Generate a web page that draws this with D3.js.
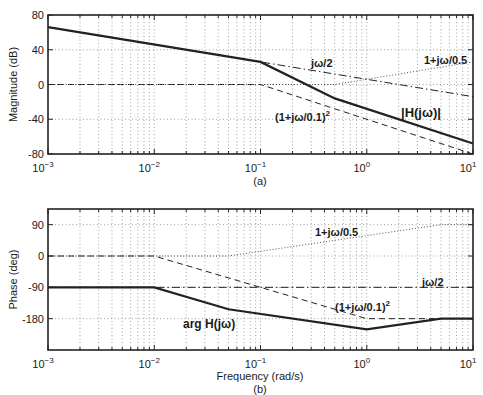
<!DOCTYPE html>
<html>
<head>
<meta charset="utf-8">
<script src="https://cdn.jsdelivr.net/npm/d3@7"></script>
<style>
  body { margin: 0; background: #fff; }
  text { font-family: "Liberation Sans", Arial, sans-serif; fill: #1a1a1a; }
</style>
</head>
<body>
<div id="chart"></div>
<script>
// frequency decades (rad/s)
const decades = [-3, -2, -1, 0, 1];

// magnitude (dB) asymptotes: [w, dB]
const magTotal  = [[0.001, 66], [0.1, 26], [0.5, -16], [10, -68]];
const magInteg  = [[0.001, 66], [10, -14]];
const magPole2  = [[0.001, 0], [0.1, 0], [10, -80]];
const magZero   = [[0.001, 0], [0.5, 0], [10, 26]];

// phase (deg) asymptotes: [w, deg]
const phTotal = [[0.001, -90], [0.01, -90], [0.05, -153], [1, -211], [5, -180], [10, -180]];
const phInteg = [[0.001, -90], [10, -90]];
const phPole2 = [[0.001, 0], [0.01, 0], [1, -180], [10, -180]];
const phZero  = [[0.001, 0], [0.05, 0], [5, 90], [10, 90]];

const magTicks = [-80, -40, 0, 40, 80];
const magGrid = [-40, 0, 40];
const phTicks = [-180, -90, 0, 90];

const width = 483, height = 395;
const left = 48, right = 473;

const svg = d3.select('#chart').append('svg')
  .attr('width', width).attr('height', height);

const x = d3.scaleLog().domain([1e-3, 10]).range([left, right]);

// minor + major tick frequencies
const allFreqs = [];
decades.slice(0, -1).forEach(d => {
  for (let k = 1; k < 10; k++) allFreqs.push(k * Math.pow(10, d));
});
allFreqs.push(10);

function panel(top, bottom, yDomain, yTicks, yGrid, series, ylabel, caption, xlabel) {
  const y = d3.scaleLinear().domain(yDomain).range([bottom, top]);
  const g = svg.append('g');

  // grid
  g.selectAll('.vg').data(allFreqs.filter(f => f > 1e-3 && f < 10)).enter()
    .append('line')
    .attr('x1', d => x(d)).attr('x2', d => x(d))
    .attr('y1', top).attr('y2', bottom)
    .attr('stroke', '#8a8a8a').attr('stroke-width', 0.8)
    .attr('stroke-dasharray', '1,2.5');
  g.selectAll('.hg').data(yGrid).enter()
    .append('line')
    .attr('x1', left).attr('x2', right)
    .attr('y1', d => y(d)).attr('y2', d => y(d))
    .attr('stroke', '#8a8a8a').attr('stroke-width', 0.8)
    .attr('stroke-dasharray', '1,2.5');

  // curves
  const line = d3.line().x(d => x(d[0])).y(d => y(d[1]));
  series.forEach(s => {
    g.append('path').datum(s.data)
      .attr('d', line)
      .attr('fill', 'none')
      .attr('stroke', s.color || '#222')
      .attr('stroke-width', s.w)
      .attr('stroke-dasharray', s.dash);
  });

  // ticks (inside, all four sides)
  allFreqs.forEach(f => {
    const major = decades.some(d => Math.abs(Math.pow(10, d) - f) < 1e-12);
    const len = major ? 5 : 3;
    g.append('line').attr('x1', x(f)).attr('x2', x(f))
      .attr('y1', bottom).attr('y2', bottom - len).attr('stroke', '#222');
    g.append('line').attr('x1', x(f)).attr('x2', x(f))
      .attr('y1', top).attr('y2', top + len).attr('stroke', '#222');
  });
  yTicks.forEach(t => {
    g.append('line').attr('x1', left).attr('x2', left + 5)
      .attr('y1', y(t)).attr('y2', y(t)).attr('stroke', '#222');
    g.append('line').attr('x1', right).attr('x2', right - 5)
      .attr('y1', y(t)).attr('y2', y(t)).attr('stroke', '#222');
  });

  // frame
  g.append('rect')
    .attr('x', left).attr('y', top)
    .attr('width', right - left).attr('height', bottom - top)
    .attr('fill', 'none').attr('stroke', '#222').attr('stroke-width', 1.6);

  // y tick labels
  g.selectAll('.yl').data(yTicks).enter()
    .append('text')
    .attr('x', left - 4).attr('y', d => y(d) + 4)
    .attr('text-anchor', 'end')
    .style('font-size', '11px')
    .text(d => d < 0 ? '-' + Math.abs(d) : d);

  // x tick labels 10^n
  decades.forEach(d => {
    const t = g.append('text')
      .attr('x', x(Math.pow(10, d)) - 5).attr('y', bottom + 18)
      .attr('text-anchor', 'middle')
      .style('font-size', '11px');
    t.append('tspan').text('10');
    t.append('tspan').attr('dy', -5).style('font-size', '8px').text(d < 0 ? '\u2212' + Math.abs(d) : d);
  });

  // y axis label
  g.append('text')
    .attr('transform', `translate(17,${(top + bottom) / 2}) rotate(-90)`)
    .attr('text-anchor', 'middle')
    .style('font-size', '11px')
    .text(ylabel);

  let cy = bottom + 31;
  if (xlabel) {
    g.append('text').attr('x', 260).attr('y', bottom + 30)
      .attr('text-anchor', 'middle').style('font-size', '11px').text(xlabel);
    cy = bottom + 43;
  }
  g.append('text').attr('x', 260).attr('y', cy)
    .attr('text-anchor', 'middle').style('font-size', '11px').text(caption);

  return {g, y};
}

function label(g, px, py, parts, size) {
  const t = g.append('text').attr('x', px).attr('y', py)
    .style('font-size', (size || 11) + 'px').style('font-weight', 'bold');
  parts.forEach(p => {
    const s = t.append('tspan').text(p.t);
    if (p.sup) s.attr('dy', -5).style('font-size', '8px');
  });
}

// (a) magnitude
const a = panel(15, 154, [-80, 80], magTicks, magGrid, [
  {data: magInteg, dash: '8,3,1.5,3', w: 1},
  {data: magPole2, dash: '6,4', w: 1},
  {data: magZero,  dash: '1,2', w: 1, color: '#555'},
  {data: magTotal, dash: null, w: 2.2}
], 'Magnitude (dB)', '(a)');
label(a.g, 311, 67, [{t: 'j\u03c9/2'}]);
label(a.g, 424, 64, [{t: '1+j\u03c9/0.5'}]);
label(a.g, 401, 117, [{t: '|H(j\u03c9)|'}], 13);
label(a.g, 275, 121, [{t: '(1+j\u03c9/0.1)'}, {t: '2', sup: true}]);

// (b) phase
const b = panel(209, 350, [-270, 135], phTicks, phTicks, [
  {data: phInteg, dash: '8,3,1.5,3', w: 1},
  {data: phPole2, dash: '6,4', w: 1},
  {data: phZero,  dash: '1,2', w: 1, color: '#555'},
  {data: phTotal, dash: null, w: 2.2}
], 'Phase (deg)', '(b)', 'Frequency (rad/s)');
label(b.g, 315, 236, [{t: '1+j\u03c9/0.5'}]);
label(b.g, 422, 286, [{t: 'j\u03c9/2'}]);
label(b.g, 335, 311, [{t: '(1+j\u03c9/0.1)'}, {t: '2', sup: true}]);
label(b.g, 183, 328, [{t: 'arg H(j\u03c9)'}], 12);
</script>
</body>
</html>
